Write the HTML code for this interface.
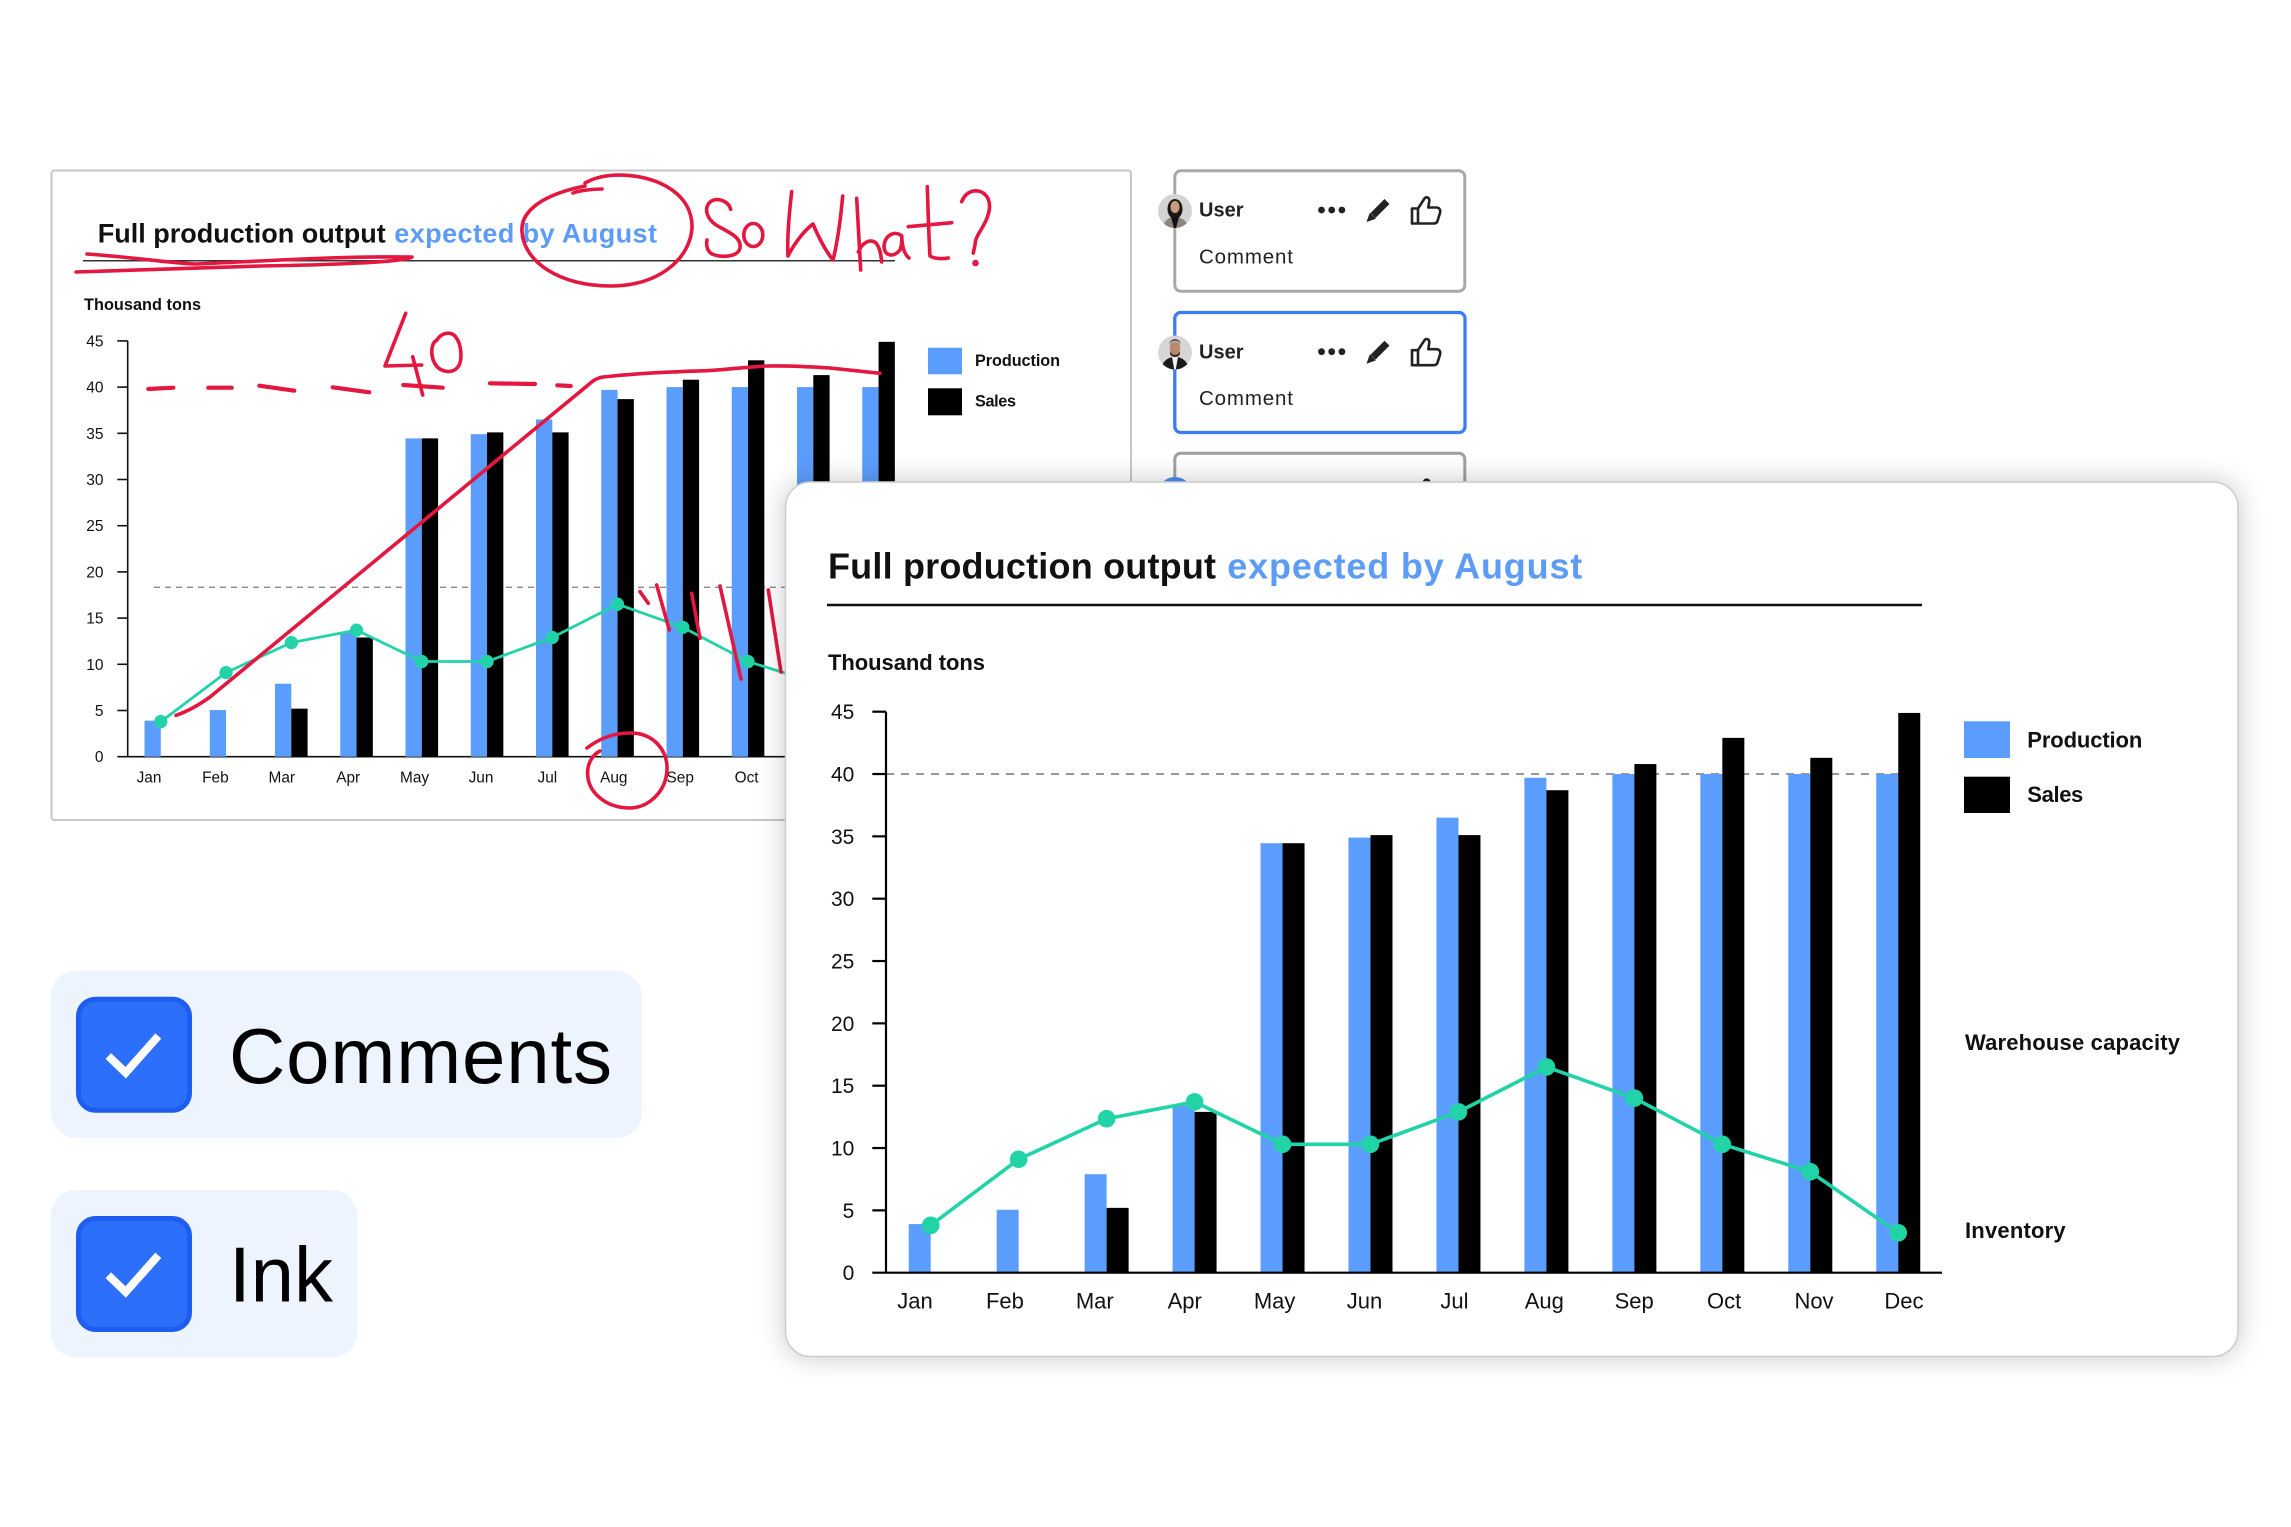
<!DOCTYPE html>
<html>
<head>
<meta charset="utf-8">
<style>
  html,body{margin:0;padding:0;background:#fff;}
  svg{display:block;}
</style>
</head>
<body>
<svg width="2291" height="1527" viewBox="0 0 2291 1527" xmlns="http://www.w3.org/2000/svg" font-family="'Liberation Sans', Arial, sans-serif">
  <defs>
    <filter id="sh" x="-5%" y="-8%" width="110%" height="116%">
      <feDropShadow dx="0" dy="0" stdDeviation="13" flood-color="#000" flood-opacity="0.22"/>
    </filter>
    <clipPath id="av1"><circle cx="1175" cy="211" r="17"/></clipPath>
    <clipPath id="av2"><circle cx="1175" cy="352.5" r="17"/></clipPath>
  </defs>

  <rect x="0" y="0" width="2291" height="1527" fill="#fff"/>

  <!-- ================= BACK CARD ================= -->
  <rect x="51.5" y="170.5" width="1079.5" height="649.5" rx="3" fill="#fff" stroke="#c6c6c6" stroke-width="2"/>

  <text x="97.7" y="242.3" font-size="27" font-weight="700" fill="#111" textLength="288" lengthAdjust="spacing">Full production output</text>
  <text x="394.3" y="242.3" font-size="27" font-weight="700" fill="#5d9cf6" textLength="262.7" lengthAdjust="spacing">expected by August</text>
  <line x1="83" y1="260.7" x2="895" y2="260.7" stroke="#333" stroke-width="1.5"/>
  <text x="84" y="310" font-size="16.3" font-weight="700" fill="#111" textLength="117" lengthAdjust="spacing">Thousand tons</text>

  <!-- back axes -->
  <g stroke="#111" stroke-width="1.6">
    <line x1="127.7" y1="340.9" x2="127.7" y2="756.7"/>
    <line x1="117.3" y1="756.7" x2="905" y2="756.7"/>
    <line x1="117.3" y1="340.9" x2="127.7" y2="340.9"/>
    <line x1="117.3" y1="387.1" x2="127.7" y2="387.1"/>
    <line x1="117.3" y1="433.3" x2="127.7" y2="433.3"/>
    <line x1="117.3" y1="479.5" x2="127.7" y2="479.5"/>
    <line x1="117.3" y1="525.7" x2="127.7" y2="525.7"/>
    <line x1="117.3" y1="571.9" x2="127.7" y2="571.9"/>
    <line x1="117.3" y1="618.1" x2="127.7" y2="618.1"/>
    <line x1="117.3" y1="664.3" x2="127.7" y2="664.3"/>
    <line x1="117.3" y1="710.5" x2="127.7" y2="710.5"/>
  </g>
  <g font-size="15.5" fill="#111" text-anchor="end">
    <text x="103.5" y="346.4">45</text>
    <text x="103.5" y="392.6">40</text>
    <text x="103.5" y="438.8">35</text>
    <text x="103.5" y="485">30</text>
    <text x="103.5" y="531.2">25</text>
    <text x="103.5" y="577.4">20</text>
    <text x="103.5" y="623.6">15</text>
    <text x="103.5" y="669.8">10</text>
    <text x="103.5" y="716">5</text>
    <text x="103.5" y="762.2">0</text>
  </g>
  <line x1="154" y1="587.3" x2="905" y2="587.3" stroke="#8a8a8a" stroke-width="1.3" stroke-dasharray="6 5"/>

  <!-- back bars -->
  <g fill="#5b9dfc">
    <rect x="144.5" y="720.66" width="16.3" height="36.04"/>
    <rect x="209.75" y="710.04" width="16.3" height="46.66"/>
    <rect x="275" y="683.7" width="16.3" height="73"/>
    <rect x="340.25" y="632.88" width="16.3" height="123.82"/>
    <rect x="405.5" y="438.38" width="16.3" height="318.32"/>
    <rect x="470.75" y="434.22" width="16.3" height="322.48"/>
    <rect x="536" y="419.44" width="16.3" height="337.26"/>
    <rect x="601.25" y="389.87" width="16.3" height="366.83"/>
    <rect x="666.5" y="387.1" width="16.3" height="369.6"/>
    <rect x="731.75" y="387.1" width="16.3" height="369.6"/>
    <rect x="797" y="387.1" width="16.3" height="369.6"/>
    <rect x="862.25" y="387.1" width="16.3" height="369.6"/>
  </g>
  <g fill="#000">
    <rect x="291.3" y="708.65" width="16.3" height="48.05"/>
    <rect x="356.55" y="637.5" width="16.3" height="119.2"/>
    <rect x="421.8" y="438.38" width="16.3" height="318.32"/>
    <rect x="487.05" y="432.38" width="16.3" height="324.32"/>
    <rect x="552.3" y="432.38" width="16.3" height="324.32"/>
    <rect x="617.55" y="399.11" width="16.3" height="357.59"/>
    <rect x="682.8" y="379.71" width="16.3" height="376.99"/>
    <rect x="748.05" y="360.3" width="16.3" height="396.4"/>
    <rect x="813.3" y="375.09" width="16.3" height="381.61"/>
    <rect x="878.55" y="341.82" width="16.3" height="414.88"/>
  </g>
  <g font-size="15.4" fill="#111" text-anchor="middle">
    <text x="149" y="782.7">Jan</text>
    <text x="215.4" y="782.7">Feb</text>
    <text x="281.8" y="782.7">Mar</text>
    <text x="348.2" y="782.7">Apr</text>
    <text x="414.6" y="782.7">May</text>
    <text x="481" y="782.7">Jun</text>
    <text x="547.4" y="782.7">Jul</text>
    <text x="613.8" y="782.7">Aug</text>
    <text x="680.2" y="782.7">Sep</text>
    <text x="746.6" y="782.7">Oct</text>
    <text x="813" y="782.7">Nov</text>
    <text x="879.4" y="782.7">Dec</text>
  </g>
  <polyline fill="none" stroke="#22d3a8" stroke-width="2.8" stroke-linejoin="round"
    points="160.8,721.59 226.05,672.62 291.3,642.59 356.55,630.11 421.8,661.53 487.05,661.53 552.3,637.5 617.55,604.24 682.8,627.34 748.05,661.53 813.3,681.86 878.55,727.13"/>
  <g fill="#22d3a8">
    <circle cx="160.8" cy="721.59" r="6.6"/>
    <circle cx="226.05" cy="672.62" r="6.6"/>
    <circle cx="291.3" cy="642.59" r="6.6"/>
    <circle cx="356.55" cy="630.11" r="6.6"/>
    <circle cx="421.8" cy="661.53" r="6.6"/>
    <circle cx="487.05" cy="661.53" r="6.6"/>
    <circle cx="552.3" cy="637.5" r="6.6"/>
    <circle cx="617.55" cy="604.24" r="6.6"/>
    <circle cx="682.8" cy="627.34" r="6.6"/>
    <circle cx="748.05" cy="661.53" r="6.6"/>
    <circle cx="813.3" cy="681.86" r="6.6"/>
    <circle cx="878.55" cy="727.13" r="6.6"/>
  </g>
  <!-- back legend -->
  <rect x="928" y="347.7" width="34" height="26.6" fill="#5b9dfc"/>
  <rect x="928" y="388.3" width="34" height="27" fill="#000"/>
  <text x="975" y="366" font-size="16.2" font-weight="700" fill="#111" textLength="85" lengthAdjust="spacing">Production</text>
  <text x="975" y="406.7" font-size="16.2" font-weight="700" fill="#111" textLength="41" lengthAdjust="spacing">Sales</text>

  <!-- ================= RED INK ================= -->
  <g fill="none" stroke="#e3173f" stroke-width="3.6" stroke-linecap="round" stroke-linejoin="round">
    <!-- strike -->
    <path d="M87 254 C130 257,170 263,195 264 C250 262,330 256,412 257 C405 262,330 265,260 266 C190 268,120 270,76 272"/>
    <!-- circle by August -->
    <path d="M602 189 C590 189,578 191,573 193"/>
    <path d="M585 186 C545 194,520 210,522 232 C524 262,560 286,610 286 C660 286,690 258,692 228 C693 195,660 176,620 175 C604 175,592 179,585 183"/>
    <!-- So What? -->
    <path d="M730.7 209.3 C728 200,716 197,710 202 C704 208,706 218,716 225 C728 232,742 237,740 248 C738 257,722 258,712 254 C707 251,706 245,707 240"/>
    <ellipse cx="753.3" cy="235" rx="9.5" ry="11.5"/>
    <path d="M791.7 191.7 C789 215,787 240,788 256 C795 242,805 230,813 224 C818 236,825 250,833 260 C838 240,841 215,842.7 196"/>
    <path d="M856.7 198.3 L860.7 270"/>
    <path d="M858.3 252 C862 243,870 238,876 243 C880 248,881 255,881.7 262"/>
    <path d="M901.7 236 C895 230,885 235,884 246 C884 256,893 258,900 250 C902 245,902 238,901.7 236 C902 245,904 254,909 258"/>
    <path d="M927.3 186.7 C928 210,929 240,930 256 C935 259,943 259,948.3 258"/>
    <path d="M908.3 226.7 L951.7 222.7"/>
    <path d="M961.7 201.7 C965 193,972 190,978 191 C988 193,992 203,988 215 C985 227,975 235,975 245 L973.3 253"/>
    <circle cx="975.5" cy="263" r="1.5"/>
    <!-- 40 -->
    <path d="M405.7 313.3 L385 366 L421.7 365"/>
    <path d="M412.7 356.7 L422.7 395"/>
    <path d="M437 340 C441 333,450 331,455 336 C462 344,463 362,457 368 C451 374,440 372,435 364 C430 355,431 343,437 340"/>
    <!-- Aug circle -->
    <path d="M587 748 C600 738,615 733,630 733 C655 733,668 752,667 770 C666 792,648 808,630 808 C605 808,590 792,588 778 C586 765,592 755,600 751"/>
    <!-- big line -->
    <path d="M176 715.3 C186 712,196 707,210 697 L593.3 380.7 C598 377.5,602 377,608 376.5 C640 373,680 371.5,706.7 370.7 C735 369,752 366.5,766.7 366 C790 365.5,815 367,830 368 L880 373.3"/>
    <!-- verticals -->
    <path d="M640 591.7 L648.3 603.3"/>
    <path d="M656.7 585 L669.3 630"/>
    <path d="M691.7 593.3 L700 638.3"/>
    <path d="M720 586 L741 679"/>
    <path d="M768.3 590 L781 672"/>
  </g>
  <g stroke="#e3173f" stroke-width="4.2" stroke-linecap="round">
    <line x1="148.3" y1="389" x2="173.3" y2="387.7"/>
    <line x1="208.3" y1="387.7" x2="231.7" y2="387.7"/>
    <line x1="259.3" y1="385.7" x2="294.3" y2="390.7"/>
    <line x1="332.7" y1="387.3" x2="369.3" y2="392.3"/>
    <line x1="403.3" y1="385" x2="442.7" y2="387.7"/>
    <line x1="490" y1="383.3" x2="535" y2="384"/>
    <line x1="557.3" y1="385.3" x2="570.7" y2="386"/>
  </g>

  <!-- ================= COMMENT CARDS ================= -->
  <!-- card 1 -->
  <rect x="1174.8" y="170.8" width="290" height="120.4" rx="6" fill="#fff" stroke="#a8a8a8" stroke-width="3"/>
  <g clip-path="url(#av1)">
    <circle cx="1175" cy="211" r="17" fill="#d3d3d3"/>
    <ellipse cx="1175" cy="209" rx="7.5" ry="10" fill="#1d1713"/>
    <ellipse cx="1175" cy="207" rx="4.6" ry="6" fill="#c99c82"/>
    <path d="M1162 232 C1163 221,1168 217,1175 217 C1182 217,1188 221,1190 232 Z" fill="#8e8580"/>
    <path d="M1171 217 L1175 232 L1179 217 Z" fill="#111"/>
  </g>
  <text x="1199" y="216.7" font-size="20" font-weight="700" fill="#222">User</text>
  <text x="1199" y="263.3" font-size="20.5" fill="#222" textLength="94" lengthAdjust="spacing">Comment</text>
  <g fill="#222">
    <circle cx="1321.5" cy="210" r="3.4"/>
    <circle cx="1331.7" cy="210" r="3.4"/>
    <circle cx="1341.9" cy="210" r="3.4"/>
    <line x1="1373" y1="215.5" x2="1387" y2="201.5" stroke="#222" stroke-width="7"/>
    <polygon points="1369.8,212.6 1375.9,218.7 1366.5,222"/>
  </g>
  <path d="M1412 208.5 L1418 208.5 L1418 223.5 L1412 223.5 Z M1418 208.5 L1424.5 198.5 C1426 196.5,1429.5 197,1429.3 201 L1428.3 207.5 L1436.5 207.5 C1439.5 207.5,1440.8 210,1440 213 L1437.5 221 C1437 223,1435.5 223.5,1433.5 223.5 L1418 223.5" fill="none" stroke="#222" stroke-width="2.6" stroke-linejoin="round"/>

  <!-- card 2 -->
  <rect x="1174.8" y="312.5" width="290.2" height="120" rx="6" fill="#fff" stroke="#3a7cf5" stroke-width="3.3"/>
  <g clip-path="url(#av2)">
    <circle cx="1175" cy="352.5" r="17" fill="#d6d6d6"/>
    <ellipse cx="1175" cy="348" rx="5.3" ry="6.8" fill="#b88a70"/>
    <path d="M1169.7 345 C1170 339,1180 339,1180.3 345 L1180.3 343 C1179 338,1171 338,1169.7 343 Z" fill="#222"/>
    <path d="M1170 351 C1172 356,1178 356,1180 351 L1180 354 C1178 358,1172 358,1170 354 Z" fill="#3a2a22"/>
    <path d="M1160 374 C1161 362,1167 357,1175 357 C1183 357,1189 362,1190 374 Z" fill="#1a1a1a"/>
    <path d="M1172 357 L1175 374 L1178 357 Z" fill="#f2f2f2"/>
  </g>
  <text x="1199" y="358.3" font-size="20" font-weight="700" fill="#222">User</text>
  <text x="1199" y="405" font-size="20.5" fill="#222" textLength="94" lengthAdjust="spacing">Comment</text>
  <g fill="#222" transform="translate(0,141.7)">
    <circle cx="1321.5" cy="210" r="3.4"/>
    <circle cx="1331.7" cy="210" r="3.4"/>
    <circle cx="1341.9" cy="210" r="3.4"/>
    <line x1="1373" y1="215.5" x2="1387" y2="201.5" stroke="#222" stroke-width="7"/>
    <polygon points="1369.8,212.6 1375.9,218.7 1366.5,222"/>
  </g>
  <path transform="translate(0,141.7)" d="M1412 208.5 L1418 208.5 L1418 223.5 L1412 223.5 Z M1418 208.5 L1424.5 198.5 C1426 196.5,1429.5 197,1429.3 201 L1428.3 207.5 L1436.5 207.5 C1439.5 207.5,1440.8 210,1440 213 L1437.5 221 C1437 223,1435.5 223.5,1433.5 223.5 L1418 223.5" fill="none" stroke="#222" stroke-width="2.6" stroke-linejoin="round"/>

  <!-- card 3 (mostly hidden) -->
  <rect x="1174.8" y="453.2" width="290" height="120" rx="6" fill="#fff" stroke="#a0a0a0" stroke-width="3"/>
  <circle cx="1175" cy="494" r="17" fill="#4a8af2"/>
  <path transform="translate(0,282.4)" d="M1418 208.5 L1424.5 198.5 C1426 196.5,1429.5 197,1429.3 201" fill="none" stroke="#222" stroke-width="2.6"/>

  <!-- ================= FRONT CARD ================= -->
  <rect x="785.5" y="482" width="1452.5" height="874.5" rx="25" fill="#fff" stroke="#cbcbcb" stroke-width="1.5" filter="url(#sh)"/>

  <text x="828" y="578.5" font-size="36" font-weight="700" fill="#111" textLength="388" lengthAdjust="spacing">Full production output</text>
  <text x="1227.3" y="578.5" font-size="36" font-weight="700" fill="#5d9cf6" textLength="355" lengthAdjust="spacing">expected by August</text>
  <line x1="827" y1="605" x2="1922" y2="605" stroke="#111" stroke-width="2.4"/>
  <text x="828" y="670" font-size="22" font-weight="700" fill="#111" textLength="157" lengthAdjust="spacing">Thousand tons</text>

  <line x1="886" y1="774.02" x2="1920" y2="774.02" stroke="#8a8a8a" stroke-width="1.7" stroke-dasharray="8 7"/>

  <!-- front bars -->
  <g fill="#5b9dfc">
    <rect x="908.7" y="1224.08" width="22" height="48.62"/>
    <rect x="996.66" y="1209.74" width="22" height="62.96"/>
    <rect x="1084.62" y="1174.21" width="22" height="98.49"/>
    <rect x="1172.58" y="1105.64" width="22" height="167.06"/>
    <rect x="1260.54" y="843.21" width="22" height="429.49"/>
    <rect x="1348.5" y="837.6" width="22" height="435.1"/>
    <rect x="1436.46" y="817.65" width="22" height="455.05"/>
    <rect x="1524.42" y="777.76" width="22" height="494.94"/>
    <rect x="1612.38" y="774.02" width="22" height="498.68"/>
    <rect x="1700.34" y="774.02" width="22" height="498.68"/>
    <rect x="1788.3" y="774.02" width="22" height="498.68"/>
    <rect x="1876.26" y="774.02" width="22" height="498.68"/>
  </g>
  <g fill="#000">
    <rect x="1106.62" y="1207.87" width="22" height="64.83"/>
    <rect x="1194.58" y="1111.88" width="22" height="160.82"/>
    <rect x="1282.54" y="843.21" width="22" height="429.49"/>
    <rect x="1370.5" y="835.11" width="22" height="437.59"/>
    <rect x="1458.46" y="835.11" width="22" height="437.59"/>
    <rect x="1546.42" y="790.23" width="22" height="482.47"/>
    <rect x="1634.38" y="764.05" width="22" height="508.65"/>
    <rect x="1722.34" y="737.87" width="22" height="534.83"/>
    <rect x="1810.3" y="757.81" width="22" height="514.89"/>
    <rect x="1898.26" y="712.93" width="22" height="559.77"/>
  </g>

  <!-- front axes -->
  <g stroke="#000" stroke-width="2.2">
    <line x1="886" y1="711.7" x2="886" y2="1272.7"/>
    <line x1="872.3" y1="1272.7" x2="1942" y2="1272.7"/>
    <line x1="872.3" y1="711.69" x2="886" y2="711.69"/>
    <line x1="872.3" y1="774.02" x2="886" y2="774.02"/>
    <line x1="872.3" y1="836.36" x2="886" y2="836.36"/>
    <line x1="872.3" y1="898.69" x2="886" y2="898.69"/>
    <line x1="872.3" y1="961.03" x2="886" y2="961.03"/>
    <line x1="872.3" y1="1023.36" x2="886" y2="1023.36"/>
    <line x1="872.3" y1="1085.7" x2="886" y2="1085.7"/>
    <line x1="872.3" y1="1148.03" x2="886" y2="1148.03"/>
    <line x1="872.3" y1="1210.37" x2="886" y2="1210.37"/>
  </g>
  <g font-size="21" fill="#111" text-anchor="end">
    <text x="854.3" y="719.2">45</text>
    <text x="854.3" y="781.5">40</text>
    <text x="854.3" y="843.9">35</text>
    <text x="854.3" y="906.2">30</text>
    <text x="854.3" y="968.5">25</text>
    <text x="854.3" y="1030.9">20</text>
    <text x="854.3" y="1093.2">15</text>
    <text x="854.3" y="1155.5">10</text>
    <text x="854.3" y="1217.9">5</text>
    <text x="854.3" y="1280.2">0</text>
  </g>
  <g font-size="22" fill="#111" text-anchor="middle">
    <text x="915" y="1308.3">Jan</text>
    <text x="1004.9" y="1308.3">Feb</text>
    <text x="1094.8" y="1308.3">Mar</text>
    <text x="1184.7" y="1308.3">Apr</text>
    <text x="1274.6" y="1308.3">May</text>
    <text x="1364.5" y="1308.3">Jun</text>
    <text x="1454.4" y="1308.3">Jul</text>
    <text x="1544.3" y="1308.3">Aug</text>
    <text x="1634.2" y="1308.3">Sep</text>
    <text x="1724.1" y="1308.3">Oct</text>
    <text x="1814" y="1308.3">Nov</text>
    <text x="1903.9" y="1308.3">Dec</text>
  </g>

  <polyline fill="none" stroke="#22d3a8" stroke-width="3.6" stroke-linejoin="round"
    points="930.7,1225.33 1018.66,1159.25 1106.62,1118.73 1194.58,1101.9 1282.54,1144.29 1370.5,1144.29 1458.46,1111.88 1546.42,1066.99 1634.38,1098.16 1722.34,1144.29 1810.3,1171.72 1898.26,1232.81"/>
  <g fill="#22d3a8">
    <circle cx="930.7" cy="1225.33" r="8.8"/>
    <circle cx="1018.66" cy="1159.25" r="8.8"/>
    <circle cx="1106.62" cy="1118.73" r="8.8"/>
    <circle cx="1194.58" cy="1101.9" r="8.8"/>
    <circle cx="1282.54" cy="1144.29" r="8.8"/>
    <circle cx="1370.5" cy="1144.29" r="8.8"/>
    <circle cx="1458.46" cy="1111.88" r="8.8"/>
    <circle cx="1546.42" cy="1066.99" r="8.8"/>
    <circle cx="1634.38" cy="1098.16" r="8.8"/>
    <circle cx="1722.34" cy="1144.29" r="8.8"/>
    <circle cx="1810.3" cy="1171.72" r="8.8"/>
    <circle cx="1898.26" cy="1232.81" r="8.8"/>
  </g>

  <!-- front legend -->
  <rect x="1964" y="721.3" width="46" height="36.7" fill="#5b9dfc"/>
  <rect x="1964" y="776.7" width="46" height="36.3" fill="#000"/>
  <text x="2027.3" y="747.7" font-size="22" font-weight="700" fill="#111" textLength="115" lengthAdjust="spacing">Production</text>
  <text x="2027.3" y="802" font-size="22" font-weight="700" fill="#111" textLength="56" lengthAdjust="spacing">Sales</text>
  <text x="1965" y="1050" font-size="22" font-weight="700" fill="#111" textLength="215" lengthAdjust="spacing">Warehouse capacity</text>
  <text x="1965" y="1238" font-size="22" font-weight="700" fill="#111" textLength="100.6" lengthAdjust="spacing">Inventory</text>

  <!-- ================= CHECKBOX PANELS ================= -->
  <rect x="50.7" y="970.7" width="591.3" height="167.3" rx="26" fill="#edf4fe"/>
  <rect x="78.5" y="999.2" width="111" height="111" rx="17" fill="#2c6ffb" stroke="#1f5cf0" stroke-width="5"/>
  <polyline points="108.3,1056 125.7,1072.7 158.3,1036" fill="none" stroke="#fff" stroke-width="8"/>
  <text x="229" y="1083" font-size="78" fill="#000" textLength="383" lengthAdjust="spacing">Comments</text>

  <rect x="50.7" y="1190" width="306.6" height="167.3" rx="26" fill="#edf4fe"/>
  <rect x="78.5" y="1218.5" width="111" height="111" rx="17" fill="#2c6ffb" stroke="#1f5cf0" stroke-width="5"/>
  <polyline points="108.3,1275.3 125.7,1292 158.3,1255.3" fill="none" stroke="#fff" stroke-width="8"/>
  <text x="229" y="1301.7" font-size="78" fill="#000">Ink</text>
</svg>
</body>
</html>
